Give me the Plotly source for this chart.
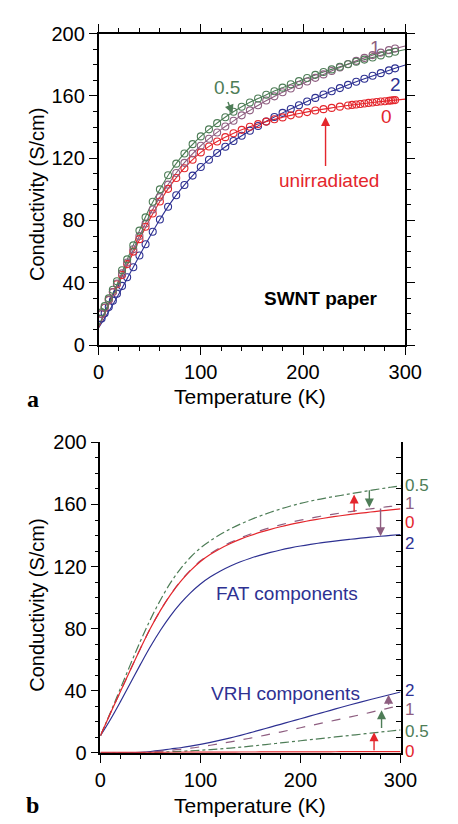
import plotly.graph_objects as go

# ---------------- data ----------------
# Panel a: measured conductivity (S/cm) vs temperature (K)
T_data = [3, 6, 10, 14, 18, 23, 28, 34, 40, 46, 53, 60, 68, 76, 84, 92, 100, 108, 116, 124,
          132, 140, 148, 156, 164, 172, 180, 188, 196, 204, 212, 220, 228, 236, 244, 252,
          260, 268, 276, 284, 290]
green_data = [21, 25, 30, 35.5, 41, 48, 55, 64, 73.5, 82, 92, 100, 109, 116.5, 123, 129, 134, 138.5,
              142.5, 146.3, 149.8, 153, 155.8, 158.3, 160.7, 163, 165.3, 167.5, 169.5, 171.5, 173.5,
              175.3, 177, 178.7, 180.3, 181.9, 183.3, 184.7, 186, 187.3, 188.3]
mauve_data = [20, 24, 29, 34, 39.5, 46, 53, 61.5, 70, 78, 87, 95, 103, 110.5, 117, 123, 128, 132.5,
              136.5, 140.3, 144, 147.5, 150.7, 154, 157, 159.7, 162.3, 164.7, 167, 169.2, 171.6,
              173.8, 176, 178.3, 180.5, 182.5, 184.4, 186.2, 187.8, 189.4, 190.4]
blue_data = [17, 20.5, 24.5, 28.5, 33, 38, 43.5, 50, 57.5, 64.7, 72.8, 80.6, 88.8, 96.2, 102.8,
             108.8, 114.3, 119, 123.3, 127.3, 131, 134.4, 137.6, 140.7, 143.6, 146.4, 149.1, 151.6,
             154, 156.4, 158.7, 160.85, 163, 165, 167.1, 169.1, 171, 172.9, 174.6, 176.4, 177.7]
T_red = [3, 6, 10, 14, 18, 23, 28, 34, 40, 46, 53, 60, 68, 76, 84, 92, 100, 108, 116, 124,
         132, 140, 148, 156, 164, 172, 180, 188, 196, 204, 212, 220, 228, 236, 244, 248, 252,
         256, 260, 264, 268, 272, 276, 280, 284, 286, 288, 290]
red_data = [20, 24, 29, 34, 39, 45, 52, 60, 68, 76, 84.5, 92.2, 100.3, 107.3, 113.5, 119, 123.7,
            127.5, 130.7, 133.5, 136, 138.2, 140.2, 141.9, 143.5, 145, 146.2, 147.5, 148.6, 149.6,
            150.6, 151.5, 152.3, 153.1, 153.8, 154.2, 154.5, 154.8, 155.1, 155.5, 155.8, 156.1,
            156.4, 156.6, 156.9, 157, 157.2, 157.3]

# Fitted curves (panel a) and their FAT / VRH components (panel b)
T_fit = [0, 10, 20, 30, 40, 50, 60, 70, 80, 90, 100, 110, 120, 130, 140, 150, 160, 170, 180,
         190, 200, 210, 220, 230, 240, 250, 260, 270, 280, 290, 300]
red_fit = [11.3, 25.8, 39.8, 53.8, 67.6, 80.65, 92.15, 102.2, 110.7, 117.85, 123.75, 128.4, 132.2,
           135.4, 138.2, 140.6, 142.75, 144.6, 146.25, 147.8, 149.15, 150.4, 151.5, 152.5, 153.5,
           154.35, 155.15, 155.94, 156.64, 157.3, 157.92]
green_fit = [12, 27, 42, 58, 73.5, 88, 100, 111, 120, 127.5, 134, 139.5, 144.5, 149, 153, 156.5,
             159.5, 162.5, 165.3, 168, 170.5, 173, 175.3, 177.5, 179.5, 181.5, 183.3, 185, 186.7,
             188.3, 189.8]
mauve_fit = [12, 26.5, 41, 55.5, 70, 83.5, 95, 105, 114, 121.5, 128, 133.5, 138.5, 143, 147.5,
             151.5, 155.5, 159, 162.3, 165.3, 168, 171, 173.8, 176.6, 179.4, 182, 184.4, 186.6,
             188.6, 190.4, 192]
blue_fit = [11, 21.5, 33, 45.1, 57.4, 69.4, 80.6, 90.8, 99.6, 107.4, 114.3, 120.2, 125.4, 130.1,
            134.4, 138.4, 142.2, 145.75, 149.1, 152.25, 155.25, 158.1, 160.85, 163.5, 166.1, 168.6,
            171, 173.3, 175.5, 177.7, 179.85]

red_fat = [11, 25.5, 39.5, 53.5, 67.3, 80.3, 91.8, 101.8, 110.3, 117.4, 123.3, 127.9, 131.7,
           134.9, 137.65, 140.05, 142.15, 144, 145.65, 147.15, 148.5, 149.72, 150.82, 151.82,
           152.74, 153.59, 154.39, 155.14, 155.84, 156.5, 157.12]
mauve_fat = [11, 25.5, 39.5, 53.5, 67.3, 80.3, 91.8, 101.9, 110.5, 117.7, 123.7, 128.4, 132.3,
             135.6, 138.45, 140.95, 143.15, 145.1, 146.85, 148.45, 149.9, 151.2, 152.4, 153.5,
             154.5, 155.45, 156.35, 157.2, 158, 158.75, 159.45]
green_fat = [11, 26, 41.5, 57, 72, 86, 98.5, 109.5, 118.5, 126, 132, 136.7, 140.8, 144.3, 147.4,
             150.2, 152.7, 155, 157.1, 159, 160.7, 162.2, 163.5, 164.7, 165.8, 166.9, 168, 169.1,
             170.1, 171.1, 172]
blue_fat = [11, 21.5, 33, 45, 57, 68.5, 79, 88.3, 96.3, 103.1, 108.8, 113.4, 117.2, 120.4, 123.1,
            125.4, 127.4, 129.15, 130.7, 132.05, 133.25, 134.3, 135.25, 136.1, 136.88, 137.6,
            138.28, 138.92, 139.52, 140.1, 140.65]

red_vrh = [0.3, 0.3, 0.3, 0.3, 0.3, 0.35, 0.35, 0.4, 0.4, 0.45, 0.45, 0.5, 0.5, 0.5, 0.55, 0.55,
           0.6, 0.6, 0.6, 0.65, 0.65, 0.7, 0.7, 0.7, 0.75, 0.75, 0.75, 0.8, 0.8, 0.8, 0.8]
green_vrh = [0, 0, 0, 0, 0.1, 0.25, 0.45, 0.7, 1, 1.35, 1.7, 2.1, 2.6, 3.1, 3.7, 4.3, 5, 5.7, 6.4,
             7.1, 7.8, 8.5, 9.2, 9.9, 10.6, 11.3, 12, 12.7, 13.4, 14.1, 14.8]
mauve_vrh = [0, 0, 0, 0.05, 0.25, 0.6, 1.1, 1.7, 2.3, 3, 3.9, 4.9, 6, 7.1, 8.3, 9.5, 10.8, 12.1,
             13.4, 14.8, 16.2, 17.6, 19, 20.4, 21.8, 23.2, 24.6, 26.1, 27.6, 29.1, 30.6]
blue_vrh = [0, 0, 0, 0.1, 0.4, 0.9, 1.6, 2.5, 3.3, 4.3, 5.5, 6.8, 8.2, 9.7, 11.3, 13, 14.8, 16.6,
            18.4, 20.2, 22, 23.8, 25.6, 27.4, 29.2, 31, 32.7, 34.4, 36, 37.6, 39.2]

# end-of-curve labels in panel b: (value where label sits, text)
fat_labels = [(172, "0.5"), (160.5, "1"), (148.7, "0"), (135, "2")]
vrh_labels = [(40, "2"), (28, "1"), (14, "0.5"), (1, "0")]

# ---------------- styling ----------------
RED = "#e4262c"
GREEN = "#4e7d57"
MAUVE = "#8e5e80"
BLUE = "#2e3192"
LABEL_COLORS = {"0": RED, "0.5": GREEN, "1": MAUVE, "2": BLUE}
FONT = "Liberation Sans, Arial, Helvetica, sans-serif"
SERIF = "Liberation Serif, Times New Roman, serif"

W, H = 458, 824
# pixel geometry of the two panels
A_X0, A_X1, A_Y0, A_Y1 = 89, 412, 15, 335
B_X0, B_X1, B_Y0, B_Y1 = 91, 407, 435, 754

fig = go.Figure()

# Panel a: fits (solid) + data (open circles)
for y, c in [(blue_fit, BLUE), (red_fit, RED), (mauve_fit, MAUVE), (green_fit, GREEN)]:
    fig.add_trace(go.Scatter(x=T_fit, y=y, mode="lines", line=dict(color=c, width=1.1, shape="spline"),
                             xaxis="x", yaxis="y", showlegend=False, hoverinfo="skip"))
for T, y, c in [(T_data, blue_data, BLUE), (T_red, red_data, RED),
                (T_data, mauve_data, MAUVE), (T_data, green_data, GREEN)]:
    fig.add_trace(go.Scatter(x=T, y=y, mode="markers",
                             marker=dict(symbol="circle-open", size=7, color=c, line=dict(width=1.1, color=c)),
                             xaxis="x", yaxis="y", showlegend=False, hoverinfo="skip"))

# Panel b: FAT and VRH components
for yv, c, dash in [(blue_fat, BLUE, "solid"), (green_fat, GREEN, "dashdot"),
                    (mauve_fat, MAUVE, "dash"), (red_fat, RED, "solid"),
                    (blue_vrh, BLUE, "solid"), (green_vrh, GREEN, "dashdot"),
                    (mauve_vrh, MAUVE, "dash"), (red_vrh, RED, "solid")]:
    fig.add_trace(go.Scatter(x=T_fit, y=yv, mode="lines",
                             line=dict(color=c, width=1.2, dash=dash, shape="spline"),
                             xaxis="x2", yaxis="y2", showlegend=False, hoverinfo="skip"))
# invisible trace to carry the inner right axis of panel b
fig.add_trace(go.Scatter(x=[0], y=[0], mode="markers", marker=dict(opacity=0),
                         xaxis="x2", yaxis="y3", showlegend=False, hoverinfo="skip"))

axis_common = dict(showline=True, linecolor="black", linewidth=1.5, showgrid=False, zeroline=False,
                   tickfont=dict(family=FONT, size=20, color="black"), ticks="outside",
                   tickcolor="black", tickwidth=1.2)
minor_x = dict(dtick=20, ticklen=4, ticks="outside", tickcolor="black", tickwidth=1.2)
minor_y = dict(dtick=10, ticklen=4, ticks="outside", tickcolor="black", tickwidth=1.2)

fig.update_layout(
    width=W, height=H, margin=dict(l=0, r=0, t=0, b=0),
    paper_bgcolor="white", plot_bgcolor="white", showlegend=False,
    xaxis=dict(domain=[A_X0 / W, A_X1 / W], anchor="y", range=[0, 300], tickvals=[0, 100, 200, 300],
               ticklen=8, mirror="ticks", minor=minor_x, **axis_common),
    yaxis=dict(domain=[1 - A_Y1 / H, 1 - A_Y0 / H], anchor="x", range=[0, 200],
               tickvals=[0, 40, 80, 120, 160, 200], ticklen=8, mirror="ticks", minor=minor_y,
               **axis_common),
    xaxis2=dict(domain=[B_X0 / W, B_X1 / W], anchor="y2", range=[0, 300], tickvals=[0, 100, 200, 300],
                ticklen=8, minor=minor_x, **axis_common),
    yaxis2=dict(domain=[1 - B_Y1 / H, 1 - B_Y0 / H], anchor="x2", range=[0, 200],
                tickvals=[0, 40, 80, 120, 160, 200], ticklen=8, minor=minor_y, **axis_common),
    yaxis3=dict(overlaying="y2", anchor="x2", side="right", range=[0, 200], showline=True,
                linecolor="black", linewidth=1.5, showgrid=False, zeroline=False,
                showticklabels=False, ticks="inside", tickvals=list(range(0, 201, 10)),
                ticklen=5, tickcolor="black", tickwidth=1.2),
)

ann = []
def text(x, y, s, color, size=19, xref="x", yref="y", xanchor="center", yanchor="middle",
         bold=False, family=FONT, textangle=0):
    ann.append(dict(x=x, y=y, xref=xref, yref=yref, text=("<b>%s</b>" % s) if bold else s,
                    showarrow=False, xanchor=xanchor, yanchor=yanchor, textangle=textangle,
                    borderpad=0, font=dict(family=family, size=size, color=color)))

def arrow(x0, y0, x1, y1, color, xr="x", yr="y"):
    ann.append(dict(x=x1, y=y1, ax=x0, ay=y0, xref=xr, yref=yr, axref=xr, ayref=yr, text="",
                    showarrow=True, arrowhead=2, arrowsize=1.3, arrowwidth=1.4, arrowcolor=color,
                    standoff=0, startstandoff=0))

# axis titles and panel letters
for yc in (180, 602):
    text(24 / W, 1 - yc / H, "Conductivity (S/cm)", "black", size=20, xref="paper", yref="paper",
         textangle=-90)
for yc in (388, 808):
    text(249 / W, 1 - yc / H, "Temperature (K)", "black", size=21, xref="paper", yref="paper")
text(20 / W, 1 - 390 / H, "a", "black", size=24, xref="paper", yref="paper", bold=True, family=SERIF)
text(20 / W, 1 - 808 / H, "b", "black", size=24, xref="paper", yref="paper", bold=True, family=SERIF)

# panel a labels
text(126, 165.5, "0.5", GREEN)
arrow(126, 157, 131, 148.5, GREEN)
text(271, 191, "1", MAUVE)
text(290, 167, "2", BLUE)
text(281.5, 147, "0", RED)
text(225, 105.5, "unirradiated", RED)
arrow(222, 114, 222, 146.5, RED)
text(161, 30, "SWNT paper", "black", size=19, xanchor="left", bold=True)

# panel b labels
text(115, 102.5, "FAT components", BLUE, xref="x2", yref="y2", xanchor="left")
text(110, 38, "VRH components", BLUE, xref="x2", yref="y2", xanchor="left")
b_scale = (B_Y1 - B_Y0) / 200.0
for v, s in fat_labels + vrh_labels:
    ypx = B_Y1 - v * b_scale
    text((B_X1 + 4) / W, 1 - ypx / H, s, LABEL_COLORS[s], size=17, xref="paper", yref="paper",
         xanchor="left")
arrow(253.6, 154.4, 253.6, 166.5, RED, "x2", "y2")
arrow(268.8, 170.2, 268.8, 158, GREEN, "x2", "y2")
arrow(280, 158.4, 280, 139.5, MAUVE, "x2", "y2")
arrow(273.5, 0.8, 273.5, 13.3, RED, "x2", "y2")
arrow(281, 15, 281, 27.5, GREEN, "x2", "y2")
arrow(288, 30, 288, 37.5, MAUVE, "x2", "y2")

fig.update_layout(annotations=ann)
fig.write_html("out.html")
